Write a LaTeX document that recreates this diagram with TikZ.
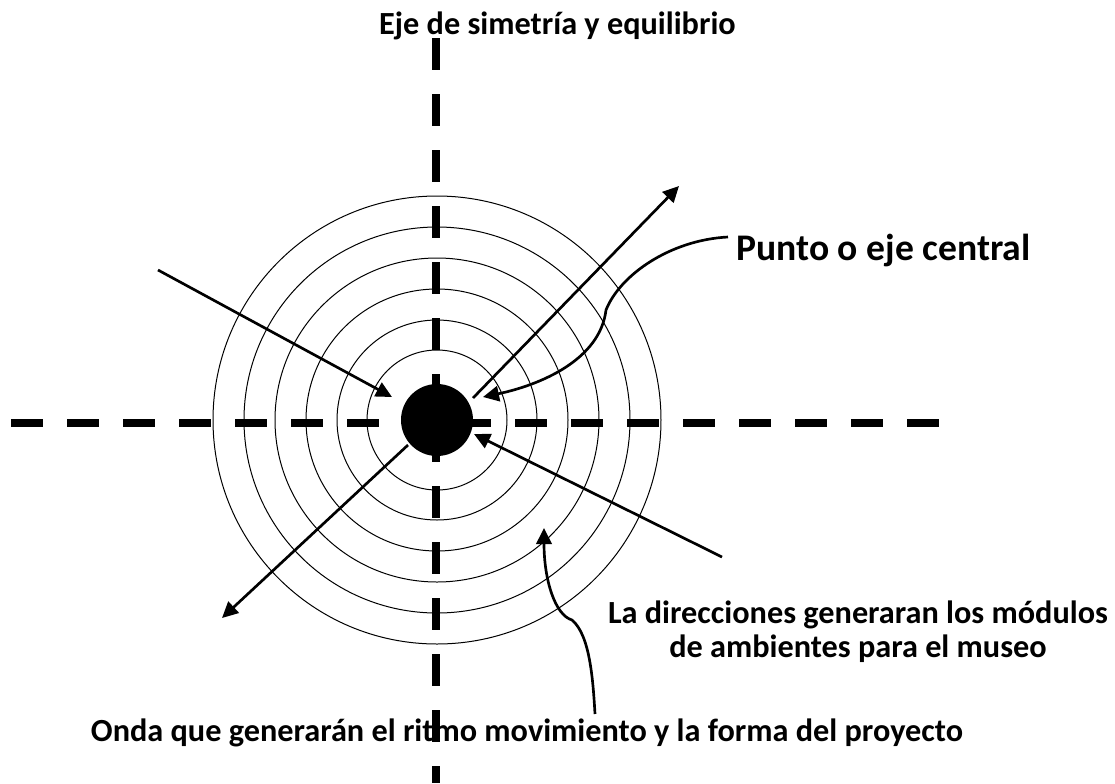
\documentclass[tikz,border=0pt]{standalone}
\usepackage{fontspec}
\setmainfont{Carlito}
\usetikzlibrary{arrows.meta}
\tikzset{
	axisline/.style={line width=6pt, dash pattern=on 24pt off 18pt},
	ringline/.style={line width=.75pt},
	dirline/.style={line width=2pt, -{Triangle[length=12pt,width=11.5pt]}},
	notecurve/.style={line width=2pt, -{Triangle[length=12pt,width=11.5pt]}},
	smalltext/.style={font=\bfseries\fontsize{24.2}{25.5}\selectfont, inner sep=0pt, align=center},
	bigtext/.style={font=\bfseries\fontsize{28.2}{32}\selectfont, inner sep=0pt}
}
\begin{document}
\begin{tikzpicture}[x=.75pt,y=-.75pt]
	\useasboundingbox (0,0) rectangle (1115,783);

	% rings and centre
	\foreach \r in {70,100,131,162,193,224} {
		\draw [ringline] (437,420) circle (\r);
	}
	\fill (437,420) circle (36);

	% axes
	\coordinate (axistop) at (436,38);
	\coordinate (axisbot) at (436,783);
	\coordinate (axisleft) at (11,423);
	\coordinate (axisright) at (939,423);
	\draw [axisline] (axistop) -- (axisbot);
	\draw [axisline] (axisleft) -- (axisright);

	% labels
	\node [smalltext, anchor=base] (title) at (557.5,34) {Eje de simetría y equilibrio};
	\node [bigtext, anchor=base] (centre) at (883.5,260) {Punto o eje central};
	\node [smalltext] (dirs) at (858,632) {La direcciones generaran los módulos\\de ambientes para el museo};
	\node [smalltext, anchor=base] (wave) at (527,741) {Onda que generarán el ritmo movimiento y la forma del proyecto};

	% directions
	\coordinate (inA) at (158,270);
	\coordinate (inAend) at (392,397);
	\coordinate (inB) at (722,557);
	\coordinate (inBend) at (474,434);
	\coordinate (outA) at (473,398);
	\coordinate (outAend) at (679,186);
	\coordinate (outB) at (408,445);
	\coordinate (outBend) at (222,618);
	\draw [dirline] (inA) -- (inAend);
	\draw [dirline] (inB) -- (inBend);
	\draw [dirline] (outA) -- (outAend);
	\draw [dirline] (outB) -- (outBend);

	% notes
	\coordinate (noteA) at (728,237);
	\coordinate (noteB) at (595,714);
	\draw [notecurve] (noteA) .. controls (670,240) and (620,275) .. (606,310)
		.. controls (600,360) and (540,385) .. (483,397);
	\draw [notecurve] (noteB) .. controls (593,680) and (590,635) .. (572,620)
		.. controls (555,615) and (544,580) .. (544,528);
\end{tikzpicture}
\end{document}
